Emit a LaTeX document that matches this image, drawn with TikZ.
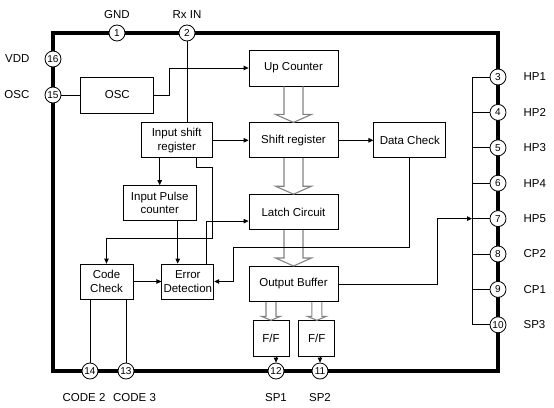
\documentclass[tikz,border=0pt]{standalone}
\usepackage{fontspec}
\setmainfont{Liberation Sans}
\usetikzlibrary{arrows.meta,positioning,calc}
\definecolor{chipGray}{RGB}{130,130,130}

% hollow block arrow: from, to, half shaft, half head, head length
\newcommand\hollowarrow[5]{%
  \draw[hollow] ($(#2.north |- #1.south)+(-#3,0)$) -- ($(#2.north)+(-#3,-#5)$)
    -- ($(#2.north)+(-#4,-#5)$) -- (#2.north) -- ($(#2.north)+(#4,-#5)$)
    -- ($(#2.north)+(#3,-#5)$) -- ($(#2.north |- #1.south)+(#3,0)$);}

\begin{document}
\begin{tikzpicture}[x=1pt, y=-1pt,
      blk/.style={rectangle, draw, line width=0.8pt, align=center, inner sep=1pt,
        minimum height=35pt, font=\fontsize{11.5}{13.5}\selectfont},
      pinc/.style={circle, draw, line width=0.8pt, fill=white, minimum size=16pt,
        inner sep=0pt, font=\fontsize{10}{10}\selectfont},
      pinlbl/.style={inner sep=0pt, font=\fontsize{11.5}{13.5}\selectfont},
      wire/.style={line width=0.8pt},
      arr/.style={wire, -{Triangle[length=5pt,width=4.5pt]}},
      bus/.style={line width=3.6pt},
      hollow/.style={draw=chipGray, line width=1.1pt},
    ]
    \useasboundingbox (0,0) rectangle (554,407);

    % ---- chip outline and pins ----
    \draw[bus] (53,33) rectangle (498,371);
    \node[pinc] (p1) at (117,33) {1};
    \node[pinc] (p2) at (187,33) {2};
    \node[pinc] (p16) at (53,59) {16};
    \node[pinc] (p15) at (53,95) {15};
    \node[pinc] (p3) at (498,77) {3};
    \node[pinc] (p4) at (498,112.4) {4};
    \node[pinc] (p5) at (498,147.8) {5};
    \node[pinc] (p6) at (498,183.2) {6};
    \node[pinc] (p7) at (498,218.6) {7};
    \node[pinc] (p8) at (498,254) {8};
    \node[pinc] (p9) at (498,289.4) {9};
    \node[pinc] (p10) at (498,324.8) {10};
    \node[pinc] (p14) at (90,371) {14};
    \node[pinc] (p13) at (126,371) {13};
    \node[pinc] (p12) at (276,371) {12};
    \node[pinc] (p11) at (320,371) {11};

    \node[pinlbl, above=6pt of p1] {GND};
    \node[pinlbl, above=6pt of p2] {Rx IN};
    \node[pinlbl, left=15pt of p16] {VDD};
    \node[pinlbl, left=15pt of p15] {OSC};
    \node[pinlbl, right=17pt of p3] {HP1};
    \node[pinlbl, right=17pt of p4] {HP2};
    \node[pinlbl, right=17pt of p5] {HP3};
    \node[pinlbl, right=17pt of p6] {HP4};
    \node[pinlbl, right=17pt of p7] {HP5};
    \node[pinlbl, right=17pt of p8] {CP2};
    \node[pinlbl, right=17pt of p9] {CP1};
    \node[pinlbl, right=17pt of p10] {SP3};
    \node[pinlbl, below=14pt of p14, xshift=-6pt] {CODE 2};
    \node[pinlbl, below=14pt of p13, xshift=8.5pt] {CODE 3};
    \node[pinlbl, below=14pt of p12] {SP1};
    \node[pinlbl, below=14pt of p11] {SP2};

    % ---- blocks ----
    \node[blk, minimum width=73pt, minimum height=36pt, right=19pt of p15] (osc) {OSC};
    \node[blk, minimum width=89pt, minimum height=36pt] (upc) at (293.5,68) {Up Counter};
    \node[blk, minimum width=89pt, below=36pt of upc] (shift) {Shift register};
    \node[blk, minimum width=89pt, below=36pt of shift] (latch) {Latch Circuit};
    \node[blk, minimum width=89pt, below=36pt of latch] (obuf) {Output Buffer};
    \node[blk, minimum width=72pt, right=35pt of shift] (dchk) {Data Check};
    \node[blk, minimum width=71pt, left=36pt of shift] (isr) {Input shift\\register};
    \node[blk, minimum width=73pt, below=27pt of isr, xshift=-17pt] (ipc) {Input Pulse\\counter};
    \node[blk, minimum width=53pt] (cc) at (106.5,281.5) {Code\\Check};
    \node[blk, minimum width=52pt, right=28pt of cc] (ed) {Error\\Detection};
    \node[blk, minimum width=36pt, minimum height=36pt, below=18.5pt of obuf, xshift=-22.5pt] (ff1) {F/F};
    \node[blk, minimum width=36pt, minimum height=36pt, right=9pt of ff1] (ff2) {F/F};

    % ---- block arrows ----
    \hollowarrow{upc}{shift}{9.5}{18}{8}
    \hollowarrow{shift}{latch}{9.5}{18}{8}
    \hollowarrow{latch}{obuf}{9.5}{18}{8}
    \hollowarrow{obuf}{ff1}{5}{9.5}{4}
    \hollowarrow{obuf}{ff2}{5}{9.5}{4}

    % ---- signal lines ----
    \draw[wire] (p15) -- (osc);
    \draw[arr] (osc.east) -- ++(15,0) |- (upc.west);
    \draw[wire] (p2) -- (p2 |- isr.north);
    \draw[arr] (isr) -- (shift);
    \draw[arr] (shift) -- (dchk);
    \draw[arr] (isr.south -| ipc.north) -- (ipc.north);
    \draw[arr] ([xshift=18pt]ipc.south) -- ([xshift=18pt]ipc.south |- ed.north);
    \draw[arr] ([xshift=-16pt]isr.south east) -- ++(0,9) -- ++(16,0) -- ++(0,71) -| (cc.north);
    \draw[arr] ([xshift=-8pt]ed.north east) |- ([yshift=-9pt]latch.west);
    \draw[arr] (cc) -- (ed);
    \draw[arr] (dchk.south) -- ++(0,89) -| ($(ed.east)+(19,0)$) -- (ed.east);
    \draw[wire] (cc.south -| p14) -- (p14.north);
    \draw[wire] (cc.south -| p13) -- (p13.north);
    \draw[arr] (ff1.south -| p12) -- (p12.north);
    \draw[arr] (ff2.south -| p11) -- (p11.north);

    % ---- output bus to pins 3..10 ----
    \coordinate (bus3) at (472,77);
    \coordinate (bus7) at (472,218.6);
    \coordinate (bus10) at (472,324.8);
    \draw[wire] (bus3) -- (bus10);
    \draw[wire] (bus3) -- (p3.west);
    \draw[wire] (bus3 |- p4) -- (p4.west);
    \draw[wire] (bus3 |- p5) -- (p5.west);
    \draw[wire] (bus3 |- p6) -- (p6.west);
    \draw[wire] (bus7) -- (p7.west);
    \draw[wire] (bus3 |- p8) -- (p8.west);
    \draw[wire] (bus3 |- p9) -- (p9.west);
    \draw[wire] (bus10) -- (p10.west);
    \draw[arr] (obuf.east) -- ++(99,0) |- (bus7);
  \end{tikzpicture}
\end{document}
